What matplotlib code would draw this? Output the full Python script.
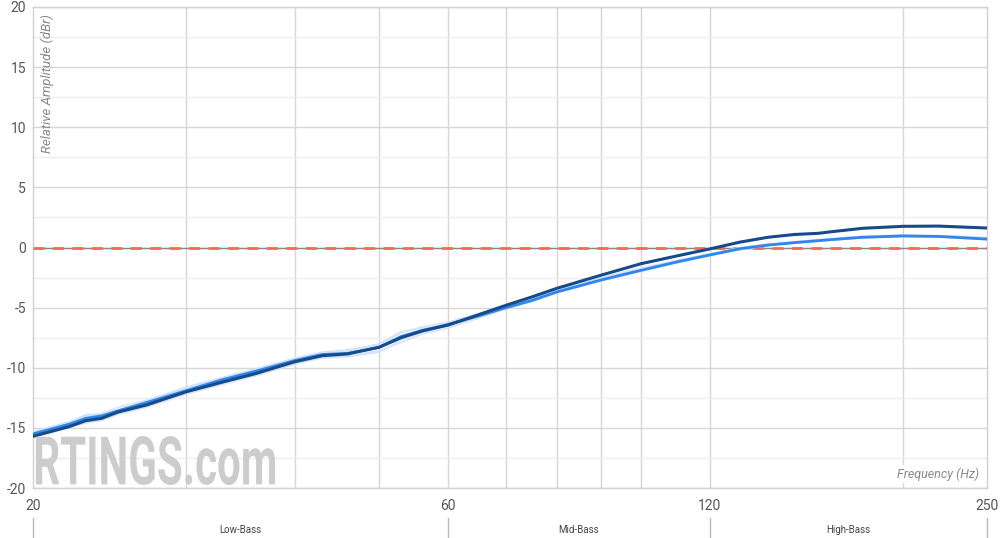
import matplotlib
matplotlib.use("Agg")
import matplotlib.pyplot as plt
import matplotlib.transforms as mtransforms
from matplotlib.textpath import TextPath
from matplotlib.patches import PathPatch
from matplotlib.font_manager import FontProperties
from matplotlib.ticker import FixedLocator, NullLocator

plt.rcParams['font.family'] = ['Roboto', 'DejaVu Sans']

# ---- data ----
freqs = [20, 22, 23, 24, 25, 27, 30, 33, 36, 40, 43, 46, 50, 53, 56, 60, 65,
         70, 75, 80, 90, 100, 110, 120, 130, 140, 150, 160, 165, 180, 200, 220, 250]

avg_dark = [-15.7, -14.9, -14.4, -14.2, -13.7, -13.1, -12.0, -11.2, -10.5, -9.5,
            -9.0, -8.85, -8.3, -7.5, -6.95, -6.45, -5.6, -4.8, -4.1, -3.4,
            -2.3, -1.35, -0.7, -0.12, 0.45, 0.85, 1.08, 1.18, 1.3, 1.6, 1.76, 1.78, 1.62]

avg_blue = [-15.5, -14.7, -14.2, -14.0, -13.6, -12.9, -11.9, -11.0, -10.3, -9.4,
            -8.9, -8.8, -8.3, -7.4, -6.9, -6.4, -5.7, -5.0, -4.4, -3.7,
            -2.7, -1.9, -1.2, -0.62, -0.1, 0.2, 0.4, 0.57, 0.65, 0.85, 0.96, 0.92, 0.7]

light_1 = [-15.3, -14.5, -13.9, -13.8, -13.3, -12.7, -11.6, -10.8, -10.1, -9.2,
           -8.7, -8.5, -8.1, -7.1, -6.6, -6.2, -5.5, -4.8, -4.2, -3.5,
           -2.5, -1.7, -1.05, -0.5, 0.0, 0.3, 0.5, 0.65, 0.75, 0.95, 1.05, 1.0, 0.85]
light_2 = [-15.6, -14.8, -14.5, -14.3, -13.8, -13.2, -12.1, -11.3, -10.6, -9.6,
           -9.1, -9.0, -8.6, -7.9, -7.2, -6.7, -5.9, -5.1, -4.5, -3.8,
           -2.8, -2.0, -1.3, -0.7, -0.2, 0.15, 0.35, 0.5, 0.6, 0.8, 0.9, 0.85, 0.65]
light_3 = [-15.4, -14.6, -14.0, -13.9, -13.5, -12.8, -11.7, -10.9, -10.2, -9.3,
           -8.8, -8.6, -8.0, -7.0, -6.7, -6.6, -5.8, -4.9, -4.3, -3.6,
           -2.6, -1.8, -1.1, -0.55, -0.05, 0.25, 0.45, 0.6, 0.7, 0.9, 1.0, 0.95, 0.8]
light_4 = [-15.8, -15.0, -14.6, -14.4, -13.9, -13.3, -12.2, -11.4, -10.7, -9.7,
           -9.2, -9.1, -8.7, -7.7, -7.1, -6.5, -5.7, -4.9, -4.3, -3.6,
           -2.6, -1.8, -1.15, -0.6, -0.1, 0.2, 0.4, 0.55, 0.62, 0.8, 0.92, 0.88, 0.7]
light_series = [light_1, light_2, light_3, light_4]

x_ticks = [20, 60, 120, 250]
x_grid = [30, 40, 50, 60, 70, 80, 90, 100, 120, 200]
y_ticks = [-20, -15, -10, -5, 0, 5, 10, 15, 20]
y_minor = [-17.5, -12.5, -7.5, -2.5, 2.5, 7.5, 12.5, 17.5]
bands = ["Low-Bass", "Mid-Bass", "High-Bass"]
band_edges = [20, 60, 120, 250]

# ---- figure ----
fig = plt.figure(figsize=(10, 5.38), dpi=100)
ax = fig.add_axes([0.033, 1 - 488 / 538, 0.954, 481 / 538])
ax.set_xscale('log')
ax.set_xlim(20, 250)
ax.set_ylim(-20, 20)

grid_major = '#d6d6d6'
grid_minor = '#eeeeee'
for g in x_grid:
    ax.axvline(g, color=grid_major, lw=1.0, zorder=0)
for g in y_ticks:
    ax.axhline(g, color=grid_major, lw=1.0, zorder=0)
for g in y_minor:
    ax.axhline(g, color=grid_minor, lw=1.0, zorder=0)

for s in ax.spines.values():
    s.set_color('#d0d0d0')
    s.set_linewidth(1.0)

ax.xaxis.set_major_locator(FixedLocator(x_ticks))
ax.xaxis.set_minor_locator(NullLocator())
ax.set_xticklabels([str(v) for v in x_ticks])
ax.set_yticks(y_ticks)
ax.set_yticklabels([str(v) for v in y_ticks])
ax.tick_params(axis='both', length=0, labelsize=10, labelcolor='#555555')
ax.tick_params(axis='x', pad=8)
ax.tick_params(axis='y', pad=5)

# watermark
tp = TextPath((0, 0), "RTINGS.com", size=100,
              prop=FontProperties(family='Roboto', weight='bold'))
ext = tp.get_extents()
x0, x1 = 36 / 1000, 275 / 1000
y0, y1 = 1 - 485 / 538, 1 - 436 / 538
tr = mtransforms.Affine2D().translate(-ext.x0, -ext.y0).scale(
    (x1 - x0) / ext.width, (y1 - y0) / ext.height).translate(x0, y0) + fig.transFigure
wm = PathPatch(tp, transform=tr, facecolor='#cccccc', edgecolor='none', zorder=1)
fig.patches.append(wm)

# zero reference line
ax.axhline(0, color='#888888', lw=1.0, zorder=2)
ax.axhline(0, color='#ff6655', lw=2.0, ls=(0, (4, 3)), zorder=3)

# curves
for s in light_series:
    ax.plot(freqs, s, color='#cfe2fb', lw=1.0, zorder=4)
ax.plot(freqs, avg_blue, color='#2f86eb', lw=2.0, zorder=5)
ax.plot(freqs, avg_dark, color='#164a88', lw=2.2, zorder=6)

# axis titles
ax.text(0.008, 0.985, 'Relative Amplitude (dBr)', transform=ax.transAxes,
        rotation=90, ha='left', va='top', fontsize=9.5, style='italic',
        color='#888888')
ax.text(0.992, 0.015, 'Frequency (Hz)', transform=ax.transAxes,
        ha='right', va='bottom', fontsize=9, style='italic', color='#888888',
        bbox=dict(facecolor='white', edgecolor='none', pad=1.5), zorder=7)

# band annotations below axis
btr = mtransforms.blended_transform_factory(ax.transData, ax.transAxes)
for e in band_edges:
    ax.plot([e, e], [-0.062, -0.11], transform=btr, color='#bbbbbb', lw=1.0,
            clip_on=False)
for i, name in enumerate(bands):
    c = (band_edges[i] * band_edges[i + 1]) ** 0.5
    ax.text(c, -0.087, name, transform=btr, ha='center', va='center',
            fontsize=7, color='#444444')

fig.savefig('out.png', dpi=100)
